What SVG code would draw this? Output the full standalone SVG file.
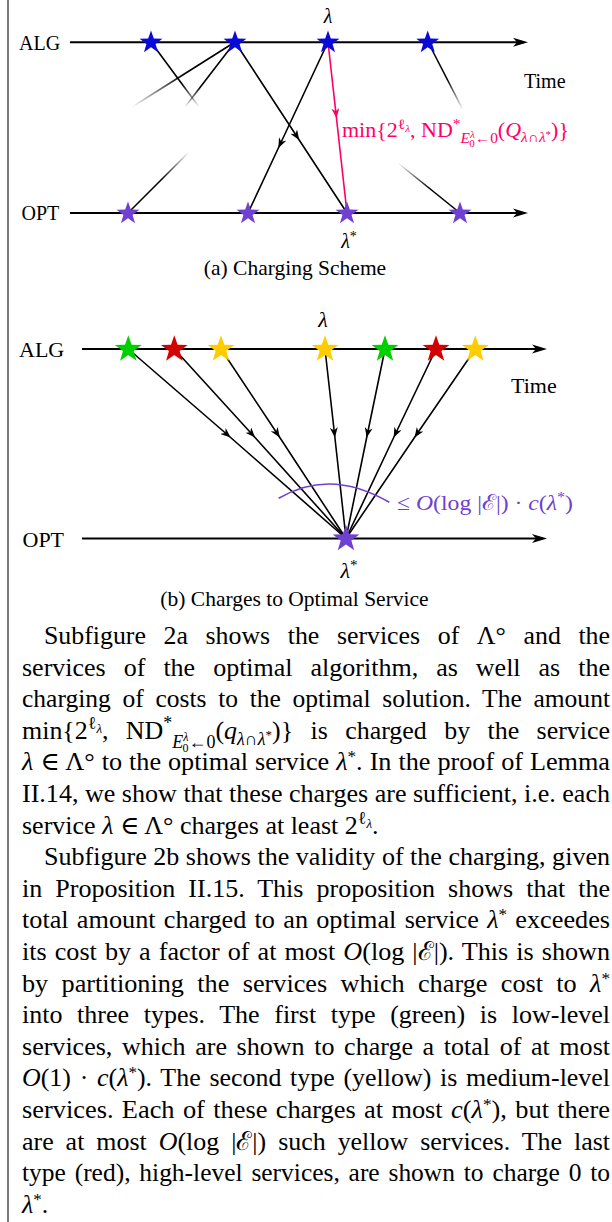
<svg xmlns="http://www.w3.org/2000/svg" xmlns:xlink="http://www.w3.org/1999/xlink" width="612" height="1222" viewBox="0 0 612 1222">
<style>
.lbl{font-family:"Liberation Serif","DejaVu Serif",serif;fill:#000}
.p{font-family:"Liberation Serif","DejaVu Serif",serif;font-size:26px;fill:#000}
.i{font-style:italic}
.ax{stroke:#000;stroke-width:2;fill:none}
.ln{stroke:#000;stroke-width:1.6;fill:none}
.pk{stroke:#ff0066;stroke-width:1.6;fill:none}
.blue{fill:#0a0ad8}
.purp{fill:#7040d0}
.grn{fill:#00d000}
.red{fill:#d40000}
.yel{fill:#ffcc00}
</style>
<defs>
<path id="star" d="M0,-12 L2.82,-3.88 L11.41,-3.71 L4.57,1.48 L7.05,9.71 L0,4.8 L-7.05,9.71 L-4.57,1.48 L-11.41,-3.71 L-2.82,-3.88 Z"/>
<marker id="ax" viewBox="0 0 15 10" refX="11" refY="5" markerWidth="15" markerHeight="10" markerUnits="userSpaceOnUse" orient="auto"><path d="M0,0.5 L15,5 L0,9.5 L4,5 Z" fill="#000"/></marker>
<marker id="mid" viewBox="0 0 11 8" refX="10" refY="4" markerWidth="11" markerHeight="8" markerUnits="userSpaceOnUse" orient="auto"><path d="M0,0 L10,4 L0,8 L3,4 Z" fill="#000"/></marker>
<marker id="midpk" viewBox="0 0 11 8" refX="10" refY="4" markerWidth="11" markerHeight="8" markerUnits="userSpaceOnUse" orient="auto"><path d="M0,0 L10,4 L0,8 L3,4 Z" fill="#ff0066"/></marker>
<linearGradient id="g1" gradientUnits="userSpaceOnUse" x1="151" y1="42" x2="199" y2="107"><stop offset="0" stop-color="#000"/><stop offset="0.65" stop-color="#000"/><stop offset="1" stop-color="#000" stop-opacity="0"/></linearGradient>
<linearGradient id="g2" gradientUnits="userSpaceOnUse" x1="235" y1="42" x2="132" y2="107"><stop offset="0" stop-color="#000"/><stop offset="0.5" stop-color="#000"/><stop offset="1" stop-color="#000" stop-opacity="0"/></linearGradient>
<linearGradient id="g3" gradientUnits="userSpaceOnUse" x1="235" y1="42" x2="185" y2="107"><stop offset="0" stop-color="#000"/><stop offset="0.7" stop-color="#000"/><stop offset="1" stop-color="#000" stop-opacity="0"/></linearGradient>
<linearGradient id="g7" gradientUnits="userSpaceOnUse" x1="428" y1="42" x2="463" y2="110"><stop offset="0" stop-color="#000"/><stop offset="0.55" stop-color="#000"/><stop offset="1" stop-color="#000" stop-opacity="0"/></linearGradient>
<linearGradient id="g8" gradientUnits="userSpaceOnUse" x1="128" y1="213" x2="189" y2="152"><stop offset="0" stop-color="#000"/><stop offset="0.55" stop-color="#000"/><stop offset="1" stop-color="#000" stop-opacity="0"/></linearGradient>
<linearGradient id="g9" gradientUnits="userSpaceOnUse" x1="460" y1="213" x2="398" y2="163"><stop offset="0" stop-color="#000"/><stop offset="0.5" stop-color="#000"/><stop offset="1" stop-color="#000" stop-opacity="0"/></linearGradient>
</defs>
<rect width="612" height="1222" fill="#fff"/>
<line x1="8" y1="0" x2="8" y2="1222" stroke="#333" stroke-width="1.3"/>

<g id="figA">
<g id="a-axes">
<path class="ax" d="M70,42.3 L524,42.3" marker-end="url(#ax)"/>
<path class="ax" d="M70,213 L524,213" marker-end="url(#ax)"/>
<text class="lbl" x="19" y="50" font-size="20">ALG</text>
<text class="lbl" x="21.5" y="219.5" font-size="20">OPT</text>
<text class="lbl" x="524" y="88" font-size="20">Time</text>
<text class="lbl i" x="328" y="23" font-size="20" text-anchor="middle">λ</text>
<text class="lbl" x="349" y="248" font-size="20" text-anchor="middle"><tspan class="i">λ</tspan><tspan dy="-7" font-size="14">*</tspan></text>
</g>
<g id="a-connectors">
<line x1="151" y1="42" x2="199" y2="107" stroke="url(#g1)" stroke-width="1.6"/>
<line x1="235" y1="42" x2="132" y2="107" stroke="url(#g2)" stroke-width="1.6"/>
<line x1="235" y1="42" x2="185" y2="107" stroke="url(#g3)" stroke-width="1.6"/>
<line x1="428" y1="42" x2="463" y2="110" stroke="url(#g7)" stroke-width="1.6"/>
<line x1="128" y1="213" x2="189" y2="152" stroke="url(#g8)" stroke-width="1.6"/>
<line x1="460" y1="213" x2="398" y2="163" stroke="url(#g9)" stroke-width="1.6"/>
<path class="ln" d="M235,42 L299.2,140 L347,213" marker-mid="url(#mid)"/>
<path class="ln" d="M328,42 L278.4,148 L248,213" marker-mid="url(#mid)"/>
<path class="pk" d="M328,42 L336.5,118.3 L347,213" marker-mid="url(#midpk)"/>
<text class="lbl" x="342" y="137" font-size="20" style="fill:#ff0066" textLength="227" lengthAdjust="spacingAndGlyphs">min{2<tspan dy="-8" font-size="14">ℓ</tspan><tspan dy="3" font-size="10" class="i">λ</tspan><tspan dy="5">, ND</tspan><tspan dy="-8" font-size="14">*</tspan><tspan dy="14" font-size="14" class="i">E</tspan><tspan dy="-5" font-size="10" class="i">λ</tspan><tspan dx="-5" dy="9" font-size="10">0</tspan><tspan dy="-4" font-size="14">←0</tspan><tspan dy="-6">(<tspan class="i">Q</tspan></tspan><tspan dy="5" font-size="14" class="i">λ∩λ</tspan><tspan dy="-4" font-size="10">*</tspan><tspan dy="-1">)}</tspan></text>
</g>
<g id="a-alg1"><use href="#star" x="151" y="42.5" class="blue"/></g>
<g id="a-alg2"><use href="#star" x="235" y="42.5" class="blue"/></g>
<g id="a-alg3"><use href="#star" x="328" y="42.5" class="blue"/></g>
<g id="a-alg4"><use href="#star" x="427.7" y="42.5" class="blue"/></g>
<g id="a-opt1"><use href="#star" x="128" y="213.5" class="purp"/></g>
<g id="a-opt2"><use href="#star" x="248" y="213.5" class="purp"/></g>
<g id="a-opt3"><use href="#star" x="347" y="213.5" class="purp"/></g>
<g id="a-opt4"><use href="#star" x="460" y="213.5" class="purp"/></g>
<text class="lbl" x="295" y="275" font-size="21.5" text-anchor="middle">(a) Charging Scheme</text>
</g>

<g id="figB">
<g id="b-axes">
<path class="ax" d="M82,349 L543,349" marker-end="url(#ax)"/>
<path class="ax" d="M82,538.5 L543,538.5" marker-end="url(#ax)"/>
<text class="lbl" x="19" y="357" font-size="22">ALG</text>
<text class="lbl" x="22.5" y="546.5" font-size="22">OPT</text>
<text class="lbl" x="511" y="393" font-size="22">Time</text>
<text class="lbl i" x="323" y="327" font-size="22" text-anchor="middle">λ</text>
<text class="lbl" x="349" y="578" font-size="22" text-anchor="middle"><tspan class="i">λ</tspan><tspan dy="-8" font-size="15">*</tspan></text>
</g>
<g id="b-connectors">
<path class="ln" d="M128.3,349 L230.6,437.5 L346,538.5" marker-mid="url(#mid)"/>
<path class="ln" d="M174.3,349 L255,437.5 L346,538.5" marker-mid="url(#mid)"/>
<path class="ln" d="M221,349 L279.8,437.5 L346,538.5" marker-mid="url(#mid)"/>
<path class="ln" d="M325,349 L334.9,437.5 L346,538.5" marker-mid="url(#mid)"/>
<path class="ln" d="M385,349 L366.7,437.5 L346,538.5" marker-mid="url(#mid)"/>
<path class="ln" d="M436,349 L393.7,437.5 L346,538.5" marker-mid="url(#mid)"/>
<path class="ln" d="M475.3,349 L414.5,437.5 L346,538.5" marker-mid="url(#mid)"/>
<path d="M278.7,498.3 Q330,467.7 389.3,502.3" fill="none" stroke="#7040d0" stroke-width="1.6"/>
<text class="lbl" x="397" y="510" font-size="22" style="fill:#7040d0" textLength="176" lengthAdjust="spacingAndGlyphs">≤ <tspan class="i">O</tspan>(log |ℰ|) · <tspan class="i">c</tspan>(<tspan class="i">λ</tspan><tspan dy="-8" font-size="15">*</tspan><tspan dy="8">)</tspan></text>
</g>
<g id="b-s1"><use href="#star" transform="translate(128.3,349.3) scale(1.17)" class="grn"/></g>
<g id="b-s2"><use href="#star" transform="translate(174.3,349.3) scale(1.17)" class="red"/></g>
<g id="b-s3"><use href="#star" transform="translate(221,349.3) scale(1.17)" class="yel"/></g>
<g id="b-s4"><use href="#star" transform="translate(325,349.3) scale(1.17)" class="yel"/></g>
<g id="b-s5"><use href="#star" transform="translate(385,349.3) scale(1.17)" class="grn"/></g>
<g id="b-s6"><use href="#star" transform="translate(436,349.3) scale(1.17)" class="red"/></g>
<g id="b-s7"><use href="#star" transform="translate(475.3,349.3) scale(1.17)" class="yel"/></g>
<g id="b-opt"><use href="#star" transform="translate(346,538.8) scale(1.17)" class="purp"/></g>
<text class="lbl" x="294.5" y="606" font-size="21.5" text-anchor="middle">(b) Charges to Optimal Service</text>
</g>

<g id="paragraphs">
<text class="p" x="44" y="644" textLength="566" lengthAdjust="spacingAndGlyphs" word-spacing="11.2">Subfigure 2a shows the services of Λ° and the</text>
<text class="p" x="22" y="675.6" textLength="588" lengthAdjust="spacingAndGlyphs" word-spacing="11.5">services of the optimal algorithm, as well as the</text>
<text class="p" x="22" y="707.2" textLength="588" lengthAdjust="spacingAndGlyphs" word-spacing="5.4">charging of costs to the optimal solution. The amount</text>
<text class="p" x="22" y="738.8" textLength="588" lengthAdjust="spacingAndGlyphs" word-spacing="10.9">min{2<tspan dy="-10" font-size="18">ℓ</tspan><tspan dy="4" font-size="13" class="i">λ</tspan><tspan dy="6">, ND</tspan><tspan dy="-10" font-size="18">*</tspan><tspan dy="19" font-size="18" class="i">E</tspan><tspan dy="-7" font-size="12" class="i">λ</tspan><tspan dx="-6" dy="11" font-size="12">0</tspan><tspan dy="-4" font-size="18">←0</tspan><tspan dy="-9">(<tspan class="i">q</tspan></tspan><tspan dy="6" font-size="18" class="i">λ∩λ</tspan><tspan dy="-6" font-size="13">*</tspan><tspan dy="0">)} is charged by the service</tspan></text>
<text class="p" x="22" y="770.4" textLength="588" lengthAdjust="spacingAndGlyphs" word-spacing="0.4"><tspan class="i">λ</tspan> ∈ Λ° to the optimal service <tspan class="i">λ</tspan><tspan dy="-8" font-size="17">*</tspan><tspan dy="8">. In the proof of Lemma</tspan></text>
<text class="p" x="22" y="802" textLength="588" lengthAdjust="spacingAndGlyphs">II.14, we show that these charges are sufficient, i.e. each</text>
<text class="p" x="22" y="833.6">service <tspan class="i">λ</tspan> ∈ Λ° charges at least 2<tspan dy="-10" font-size="18">ℓ</tspan><tspan dy="4" font-size="13" class="i">λ</tspan><tspan dy="6">.</tspan></text>
<text class="p" x="44" y="865.2" textLength="566" lengthAdjust="spacingAndGlyphs">Subfigure 2b shows the validity of the charging, given</text>
<text class="p" x="22" y="896.8" textLength="588" lengthAdjust="spacingAndGlyphs" word-spacing="6.5">in Proposition II.15. This proposition shows that the</text>
<text class="p" x="22" y="928.4" textLength="588" lengthAdjust="spacingAndGlyphs" word-spacing="1.7">total amount charged to an optimal service <tspan class="i">λ</tspan><tspan dy="-8" font-size="17">*</tspan><tspan dy="8"> exceedes</tspan></text>
<text class="p" x="22" y="960" textLength="588" lengthAdjust="spacingAndGlyphs" word-spacing="1.5">its cost by a factor of at most <tspan class="i">O</tspan>(log |ℰ|). This is shown</text>
<text class="p" x="22" y="991.6" textLength="588" lengthAdjust="spacingAndGlyphs" word-spacing="6.7">by partitioning the services which charge cost to <tspan class="i">λ</tspan><tspan dy="-8" font-size="17">*</tspan></text>
<text class="p" x="22" y="1023.2" textLength="588" lengthAdjust="spacingAndGlyphs" word-spacing="8.1">into three types. The first type (green) is low-level</text>
<text class="p" x="22" y="1054.8" textLength="588" lengthAdjust="spacingAndGlyphs" word-spacing="3.1">services, which are shown to charge a total of at most</text>
<text class="p" x="22" y="1086.4" textLength="588" lengthAdjust="spacingAndGlyphs" word-spacing="2.3"><tspan class="i">O</tspan>(1) · <tspan class="i">c</tspan>(<tspan class="i">λ</tspan><tspan dy="-8" font-size="17">*</tspan><tspan dy="8">). The second type (yellow) is medium-level</tspan></text>
<text class="p" x="22" y="1118" textLength="588" lengthAdjust="spacingAndGlyphs" word-spacing="1.7">services. Each of these charges at most <tspan class="i">c</tspan>(<tspan class="i">λ</tspan><tspan dy="-8" font-size="17">*</tspan><tspan dy="8">), but there</tspan></text>
<text class="p" x="22" y="1149.6" textLength="588" lengthAdjust="spacingAndGlyphs" word-spacing="5.5">are at most <tspan class="i">O</tspan>(log |ℰ|) such yellow services. The last</text>
<text class="p" x="22" y="1181.2" textLength="588" lengthAdjust="spacingAndGlyphs" word-spacing="2.5">type (red), high-level services, are shown to charge 0 to</text>
<text class="p" x="22" y="1212.8"><tspan class="i">λ</tspan><tspan dy="-8" font-size="17">*</tspan><tspan dy="8">.</tspan></text>
</g>
</svg>
